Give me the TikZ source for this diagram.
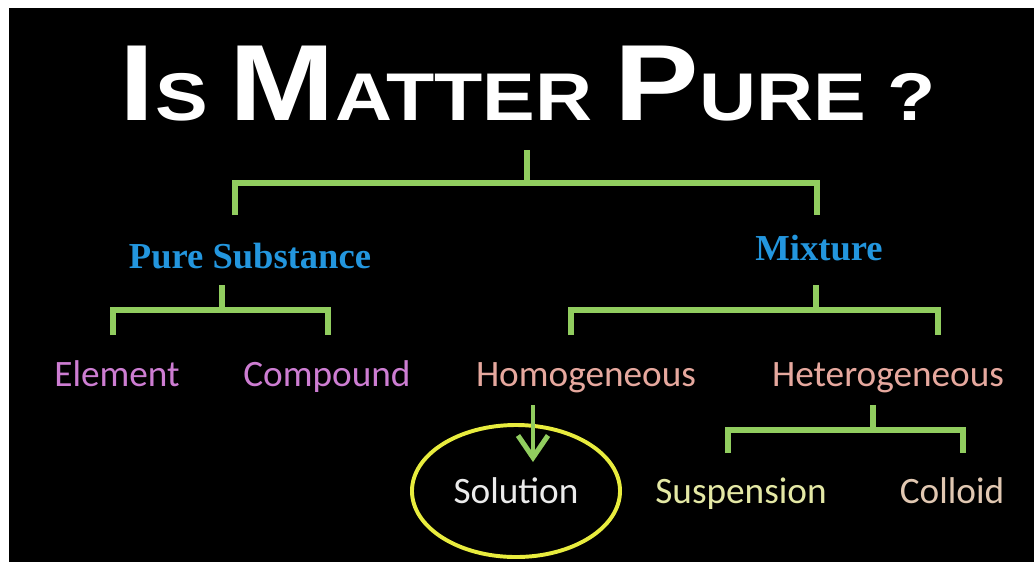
\documentclass[tikz,border=0pt]{standalone}
\usepackage{fontspec}
\setmainfont{Carlito}
\newfontfamily\titlefont[FakeStretch=1.17]{Liberation Sans}
\newfontfamily\headfont{Liberation Serif}
\usepackage{xcolor}
\usetikzlibrary{arrows.meta,shapes.geometric}

\definecolor{branchgreen}{RGB}{145,205,95}
\definecolor{headblue}{RGB}{35,150,222}
\definecolor{elemc}{RGB}{205,125,210}
\definecolor{homc}{RGB}{230,168,158}
\definecolor{solc}{RGB}{235,235,235}
\definecolor{suspc}{RGB}{228,232,165}
\definecolor{collc}{RGB}{225,200,178}
\definecolor{ringyellow}{RGB}{232,236,62}

\newcommand{\capbig}[1]{{\fontsize{77}{77}\selectfont #1}}

\begin{document}
\begin{tikzpicture}[
    x=0.025cm, y=-0.025cm,
    title/.style={font=\titlefont\bfseries\fontsize{48}{48}\selectfont, text=white, anchor=base, inner sep=0pt},
    head/.style={font=\headfont\bfseries\fontsize{26}{28}\selectfont, text=headblue, anchor=base, inner sep=0pt},
    leaf/.style={font=\fontsize{26.5}{28}\selectfont, anchor=base, inner sep=0pt},
    ring/.style={ellipse, draw=ringyellow, line width=2.8pt, minimum width=5.2cm, minimum height=3.3cm, inner sep=0pt, font=\fontsize{26.5}{28}\selectfont},
    branch/.style={draw=branchgreen, line width=3.6pt},
    arr/.style={draw=branchgreen, line width=3pt, -{Straight Barb[length=5.5mm, width=7.5mm, line width=3.6pt]}}
]
  \useasboundingbox (0,0) rectangle (1034,562);
  \fill[white] (0,0) rectangle (1034,562);
  \fill[black] (9,8) rectangle (1034,562);

  \node[title] (title) at (528,120) {\capbig{I}S \capbig{M}ATTER \capbig{P}URE ?};

  \node[head] (pure) at (250,268) {Pure Substance};
  \node[head] (mix)  at (819,260) {Mixture};

  \node[leaf, text=elemc] (elem) at (117,386) {Element};
  \node[leaf, text=elemc] (comp) at (327,386) {Compound};
  \node[leaf, text=homc]  (homo) at (586,386) {Homogeneous};
  \node[leaf, text=homc]  (hete) at (888,386) {Heterogeneous};

  \node[ring, text=solc]  (sol)  at (516,491) {Solution};
  \node[leaf, text=suspc] (susp) at (741,503) {Suspension};
  \node[leaf, text=collc] (coll) at (952,503) {Colloid};

  % split points
  \coordinate (t0) at (527,150);
  \coordinate (t1) at (235,215);
  \coordinate (t2) at (817,215);
  \coordinate (p0) at (222,285);
  \coordinate (p1) at (113,335);
  \coordinate (p2) at (328,335);
  \coordinate (m0) at (816,285);
  \coordinate (m1) at (571,335);
  \coordinate (m2) at (938,335);
  \coordinate (h0) at (873,405);
  \coordinate (h1) at (728,453);
  \coordinate (h2) at (963,453);
  \coordinate (a0) at (533,405);
  \coordinate (a1) at (533,462);

  \draw[branch] (t0) -- ++(0,33);
  \draw[branch] (t1) -- ++(0,-32) -| (t2);
  \draw[branch] (p0) -- ++(0,25);
  \draw[branch] (p1) -- ++(0,-25) -| (p2);
  \draw[branch] (m0) -- ++(0,25);
  \draw[branch] (m1) -- ++(0,-25) -| (m2);
  \draw[branch] (h0) -- ++(0,25);
  \draw[branch] (h1) -- ++(0,-23) -| (h2);

  \draw[arr] (a0) -- (a1);
\end{tikzpicture}
\end{document}
